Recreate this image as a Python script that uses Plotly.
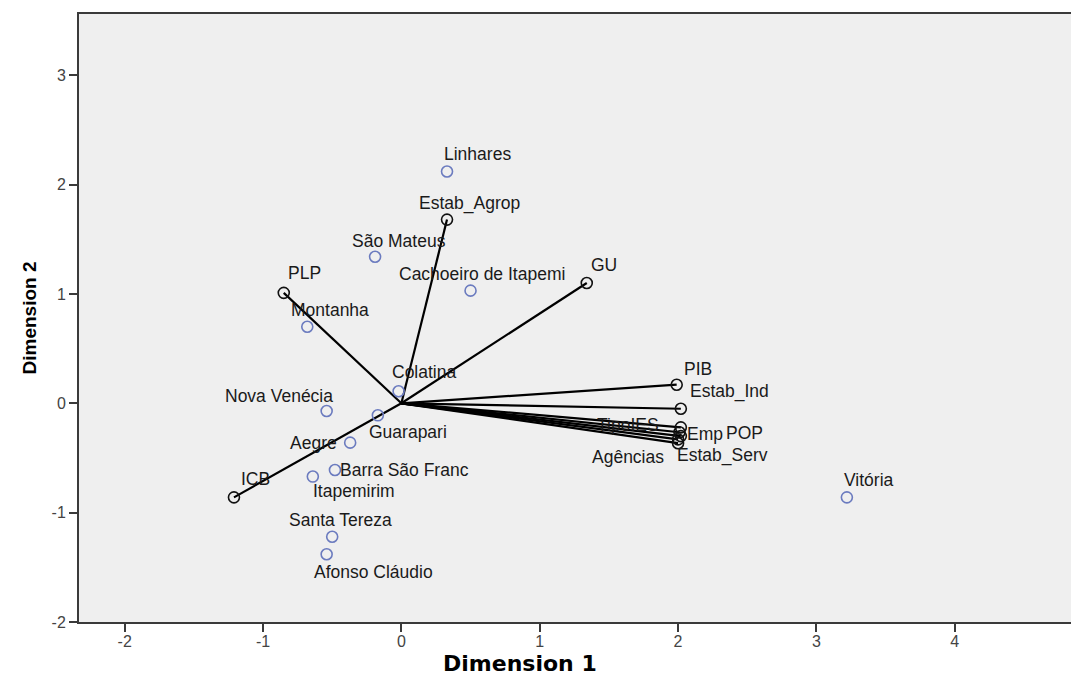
import plotly.graph_objects as go

# ---- data ----
obj_names = ["Linhares", "São Mateus", "Cachoeiro de Itapemi", "Montanha", "Colatina",
             "Nova Venécia", "Guarapari", "Aegre", "Barra São Franc", "Itapemirim",
             "Santa Tereza", "Afonso Cláudio", "Vitória"]
obj_x = [0.33, -0.19, 0.50, -0.68, -0.02, -0.54, -0.17, -0.37, -0.48, -0.64, -0.50, -0.54, 3.22]
obj_y = [2.12, 1.34, 1.03, 0.70, 0.11, -0.07, -0.11, -0.36, -0.61, -0.67, -1.22, -1.38, -0.86]

var_names = ["Estab_Agrop", "PLP", "GU", "ICB", "PIB", "Estab_Ind", "TipoIES",
             "Emp", "POP", "Agências", "Estab_Serv"]
var_x = [0.33, -0.85, 1.34, -1.21, 1.99, 2.02, 2.02, 2.01, 2.02, 2.00, 2.00]
var_y = [1.68, 1.01, 1.10, -0.86, 0.17, -0.05, -0.22, -0.265, -0.30, -0.33, -0.365]

x_ticks = [-2, -1, 0, 1, 2, 3, 4]
y_ticks = [-2, -1, 0, 1, 2, 3]

# ---- label placement (pixel offsets, style only) ----
label_shift = {
    "Linhares": (30, 17), "São Mateus": (24, 16), "Cachoeiro de Itapemi": (11, 17),
    "Montanha": (23, 17), "Colatina": (25, 19), "Nova Venécia": (-48, 15),
    "Guarapari": (30, -17), "Aegre": (-37, 0), "Barra São Franc": (70, 0),
    "Itapemirim": (41, -14), "Santa Tereza": (8, 17), "Afonso Cláudio": (47, -18),
    "Vitória": (22, 17),
    "Estab_Agrop": (22, 16), "PLP": (21, 20), "GU": (17, 18), "ICB": (22, 18),
    "PIB": (21, 16), "Estab_Ind": (49, 17), "TipoIES": (-53, 2), "Emp": (26, -2),
    "POP": (64, 3), "Agências": (-50, -18), "Estab_Serv": (44, -12),
}

LABEL_FONT = dict(family="Liberation Sans, Arial, sans-serif", size=17.5, color="#1a1a1a")

L, R, T, B = 79, 0, 14, 66
W, H = 1071, 688

fig = go.Figure()

# vectors from origin to variable points
lx, ly = [], []
for vx, vy in zip(var_x, var_y):
    lx += [0, vx, None]
    ly += [0, vy, None]
fig.add_trace(go.Scatter(x=lx, y=ly, mode="lines",
                         line=dict(color="black", width=2.2), hoverinfo="skip",
                         showlegend=False))

fig.add_trace(go.Scatter(x=var_x, y=var_y, mode="markers", text=var_names,
                         marker=dict(symbol="circle-open", size=11, color="#111111",
                                     line=dict(width=1.6, color="#111111")),
                         showlegend=False))

fig.add_trace(go.Scatter(x=obj_x, y=obj_y, mode="markers", text=obj_names,
                         marker=dict(symbol="circle-open", size=11, color="#6b7bbf",
                                     line=dict(width=1.6, color="#6b7bbf")),
                         showlegend=False))

for names, xs, ys in ((obj_names, obj_x, obj_y), (var_names, var_x, var_y)):
    for n, x, y in zip(names, xs, ys):
        dx, dy = label_shift.get(n, (0, 15))
        fig.add_annotation(x=x, y=y, text=n, showarrow=False, xshift=dx, yshift=dy,
                           font=LABEL_FONT, xanchor="center", yanchor="middle")

# x-axis title (placed as in the reference, left of the plot centre)
fig.add_annotation(xref="paper", yref="paper", x=(520 - L) / (W - L - R), y=0,
                   yshift=-41, text="<b>Dimension 1</b>", showarrow=False,
                   xanchor="center", yanchor="middle",
                   font=dict(family="DejaVu Sans, sans-serif", size=22, color="black"))

axis_common = dict(showgrid=False, zeroline=False, showline=True, linecolor="#3a3a3a",
                   linewidth=2, ticks="outside", ticklen=8, tickwidth=1.5,
                   tickcolor="#3a3a3a", automargin=False,
                   tickfont=dict(family="Liberation Sans, Arial, sans-serif", size=16,
                                 color="#444444"))

fig.update_layout(
    width=W, height=H,
    margin=dict(l=L, r=R, t=T, b=B),
    paper_bgcolor="white", plot_bgcolor="#efefef",
    xaxis=dict(range=[-2.33, 4.84], tickvals=x_ticks, ticklabelstandoff=-4,
               ticktext=[str(v) for v in x_ticks], mirror=True, **axis_common),
    yaxis=dict(range=[-2, 3.56], tickvals=y_ticks, ticklabelstandoff=0,
               ticktext=[str(v) for v in y_ticks],
               title=dict(text="<b>Dimension 2</b>", standoff=10,
                          font=dict(family="Liberation Sans, Arial, sans-serif", size=19,
                                    color="black")),
               **axis_common),
)

fig.write_html("out.html", config={"displayModeBar": False},
               post_script="document.body.style.margin='0';"
                           "document.body.style.overflow='hidden';")
